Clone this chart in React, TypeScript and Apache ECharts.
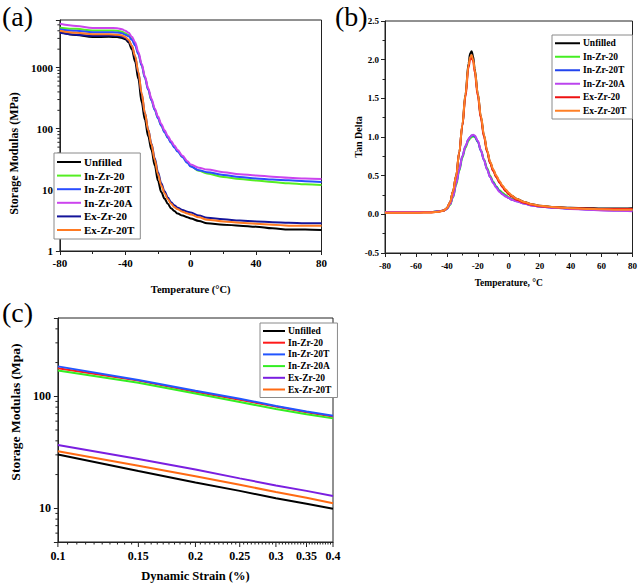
import React, { useEffect, useRef } from "react";
import * as echarts from "echarts";

const FONT = '"Liberation Serif", "Times New Roman", serif';
const NAMES = ["Unfilled", "In-Zr-20", "In-Zr-20T", "In-Zr-20A", "Ex-Zr-20", "Ex-Zr-20T"];

// ---------- Panel (a): storage modulus vs temperature ----------
const tempA = [-80, -70, -60, -50, -45, -42, -40, -38, -36, -34, -32, -30, -28, -26, -24, -22, -20, -18, -16, -14, -12, -10, -8, -5, -2, 0, 5, 10, 20, 30, 40, 50, 60, 70, 80];
const aUnfilled = [3800, 3400, 3150, 3200, 3150, 3050, 2900, 2600, 2000, 1250, 650, 270, 140, 75, 45, 25, 14, 9.2, 7.2, 5.9, 5.0, 4.5, 4.1, 3.8, 3.55, 3.4, 3.1, 2.85, 2.7, 2.6, 2.5, 2.35, 2.25, 2.25, 2.2];
const aInZr20 = [4500, 4300, 4050, 4050, 4000, 3850, 3650, 3400, 2950, 2400, 1700, 1100, 690, 440, 295, 205, 150, 113, 89, 72, 60, 50, 43, 34.5, 28, 24.5, 20.5, 18.5, 16.3, 15, 14.2, 13.4, 12.8, 12.3, 12];
const aInZr20T = [4200, 4000, 3800, 3800, 3750, 3650, 3450, 3250, 2850, 2300, 1650, 1080, 680, 435, 292, 203, 148, 112, 88, 71, 59, 49.5, 42.5, 34, 27.5, 24, 21, 19.5, 17.5, 16.3, 15.4, 14.8, 14.3, 13.8, 13.5];
const aInZr20A = [5200, 4800, 4450, 4450, 4400, 4250, 4000, 3700, 3200, 2600, 1800, 1150, 720, 460, 310, 215, 158, 120, 94, 76, 63, 53, 45, 36, 29.5, 26, 23, 21.5, 19.5, 18, 17.2, 16.4, 15.8, 15.3, 15];
const aExZr20 = [3700, 3450, 3300, 3350, 3300, 3200, 3050, 2750, 2250, 1500, 820, 370, 180, 97, 57, 33, 19.5, 12.8, 9.5, 7.5, 6.3, 5.6, 5.1, 4.7, 4.4, 4.25, 3.8, 3.5, 3.3, 3.15, 3.05, 2.95, 2.9, 2.85, 2.85];
const aExZr20T = [4000, 3700, 3500, 3500, 3450, 3350, 3150, 2850, 2300, 1550, 850, 380, 180, 95, 55, 31, 18, 11.8, 8.8, 7.0, 5.9, 5.2, 4.8, 4.4, 4.1, 3.95, 3.55, 3.25, 3.05, 2.9, 2.8, 2.7, 2.6, 2.6, 2.6];
const colorsA = ["#000000", "#55ee22", "#2a4dff", "#cc44ee", "#14149a", "#ff7a22"];
const yTicksA = [1, 10, 100, 1000];

// ---------- Panel (b): tan delta vs temperature ----------
const tempB = [-80, -70, -60, -50, -45, -42, -40, -38, -36, -34, -32, -30, -28, -26, -25, -24, -23, -22, -20, -18, -16, -14, -12, -10, -8, -6, -4, -2, 0, 2, 5, 10, 15, 20, 30, 40, 50, 60, 70, 80];
const bUnfilled = [0.03, 0.03, 0.03, 0.03, 0.04, 0.05, 0.08, 0.15, 0.3, 0.5, 0.8, 1.15, 1.55, 1.95, 2.08, 2.11, 2.04, 1.88, 1.56, 1.26, 1.02, 0.82, 0.67, 0.57, 0.49, 0.42, 0.36, 0.31, 0.27, 0.24, 0.2, 0.16, 0.13, 0.11, 0.095, 0.085, 0.08, 0.075, 0.075, 0.08];
const bInZr20 = [0.03, 0.03, 0.03, 0.03, 0.04, 0.05, 0.07, 0.12, 0.22, 0.38, 0.56, 0.73, 0.86, 0.95, 0.98, 1.0, 1.01, 1.0, 0.94, 0.83, 0.71, 0.6, 0.5, 0.42, 0.36, 0.31, 0.28, 0.25, 0.22, 0.2, 0.175, 0.145, 0.12, 0.105, 0.09, 0.075, 0.068, 0.062, 0.06, 0.06];
const bInZr20T = [0.03, 0.03, 0.03, 0.03, 0.04, 0.05, 0.07, 0.13, 0.23, 0.4, 0.58, 0.75, 0.88, 0.97, 1.0, 1.02, 1.02, 1.01, 0.94, 0.82, 0.7, 0.58, 0.48, 0.41, 0.35, 0.3, 0.26, 0.235, 0.21, 0.19, 0.17, 0.14, 0.115, 0.1, 0.085, 0.072, 0.063, 0.055, 0.05, 0.05];
const bInZr20A = [0.03, 0.03, 0.03, 0.03, 0.04, 0.05, 0.07, 0.13, 0.23, 0.4, 0.58, 0.75, 0.88, 0.97, 1.0, 1.02, 1.03, 1.02, 0.95, 0.83, 0.7, 0.58, 0.48, 0.4, 0.34, 0.29, 0.26, 0.23, 0.21, 0.19, 0.17, 0.14, 0.115, 0.1, 0.085, 0.07, 0.06, 0.05, 0.045, 0.04];
const bExZr20 = [0.02, 0.02, 0.02, 0.025, 0.035, 0.05, 0.08, 0.15, 0.3, 0.5, 0.8, 1.15, 1.52, 1.9, 2.0, 2.03, 1.98, 1.84, 1.53, 1.24, 1.0, 0.81, 0.66, 0.56, 0.48, 0.41, 0.35, 0.3, 0.26, 0.23, 0.19, 0.15, 0.125, 0.105, 0.09, 0.08, 0.075, 0.07, 0.07, 0.07];
const bExZr20T = [0.02, 0.02, 0.02, 0.025, 0.035, 0.05, 0.08, 0.15, 0.3, 0.5, 0.8, 1.16, 1.55, 1.93, 2.03, 2.06, 2.0, 1.87, 1.56, 1.27, 1.03, 0.83, 0.68, 0.58, 0.5, 0.43, 0.37, 0.32, 0.28, 0.245, 0.2, 0.16, 0.13, 0.11, 0.09, 0.08, 0.07, 0.065, 0.06, 0.06];
const colorsB = ["#000000", "#44ee22", "#2244ee", "#bb44ee", "#ee1111", "#ff8027"];

// ---------- Panel (c): storage modulus vs dynamic strain ----------
const strain = [0.1, 0.15, 0.2, 0.25, 0.3, 0.35, 0.4];
const cUnfilled = [30.2, 21.5, 17, 14.3, 12.3, 11, 9.9];
const cInZr20 = [178, 138, 110, 93, 81, 72, 66];
const cInZr20T = [185, 140, 112, 95, 82, 73, 67];
const cInZr20A = [170, 132, 106, 89, 77, 69, 63.5];
const cExZr20 = [36.8, 27.5, 22.2, 18.5, 16, 14.3, 12.9];
const cExZr20T = [32.3, 24, 19.3, 16.2, 14, 12.4, 11.1];
const colorsC = ["#000000", "#ff1a1a", "#2255ff", "#33ee22", "#7a1fe0", "#ff6a13"];
const strainTickLabels = ["0.1", "0.15", "0.2", "0.25", "0.3", "0.35", "0.4"];
const yTicksC = [10, 100];
const yRangeC = [5, 500];

const zip = (xs: number[], ys: number[]) => xs.map((x, i) => [x, ys[i]]);

const bold = (size: number) => ({ fontFamily: FONT, fontWeight: "bold" as const, fontSize: size, color: "#000" });
const AX = "#222";

const letter = (txt: string, x: number, y: number) => ({
  type: "text",
  x,
  y,
  style: { text: txt, fill: "#000", fontFamily: FONT, fontSize: 28, align: "left", verticalAlign: "middle", textAlign: "left", textVerticalAlign: "middle" },
});

function makeSeries(xs: number[], sets: number[][], colors: string[], width: number, smooth: boolean) {
  return sets.map((ys, i) => ({
    name: NAMES[i],
    type: "line",
    data: zip(xs, ys),
    showSymbol: false,
    symbol: "none",
    smooth: smooth ? 0.35 : false,
    smoothMonotone: "x",
    color: colors[i],
    lineStyle: { color: colors[i], width },
    z: 2 + i,
  }));
}

function legendOf(left: number, top: number, font: number, lineH: number, gap: number, w: number) {
  return {
    orient: "vertical",
    left,
    top,
    padding: [3, 6, 3, 3],
    itemGap: gap,
    itemWidth: w,
    itemHeight: 2,
    icon: "rect",
    borderColor: "#8a8a8a",
    borderWidth: 1,
    backgroundColor: "#fff",
    textStyle: { ...bold(font), lineHeight: lineH, padding: [0, 0, 0, -2] },
    data: NAMES,
  };
}

const optionA = {
  animation: false,
  grid: { left: 45, top: 20, width: 279, height: 235, show: true, borderColor: AX, borderWidth: 1, backgroundColor: "transparent" },
  xAxis: {
    type: "value",
    min: -80,
    max: 80,
    interval: 40,
    axisLine: { onZero: false, lineStyle: { color: AX, width: 1 } },
    axisTick: { length: 4, lineStyle: { color: AX } },
    minorTick: { show: true, splitNumber: 2, length: 3, lineStyle: { color: AX } },
    splitLine: { show: false },
    axisLabel: { ...bold(11), margin: 6 },
    name: "Temperature (°C)",
    nameLocation: "middle",
    nameGap: 33,
    nameTextStyle: bold(10.5),
  },
  yAxis: {
    type: "log",
    min: 1,
    max: 6000,
    axisLine: { onZero: false, lineStyle: { color: AX, width: 1 } },
    axisTick: { length: 4, lineStyle: { color: AX } },
    splitLine: { show: false },
    axisLabel: { ...bold(11), margin: 7, formatter: (v: number) => (yTicksA.includes(Math.round(v)) ? String(Math.round(v)) : "") },
    name: "Storage Modulas (MPa)",
    nameLocation: "middle",
    nameGap: 27,
    nameTextStyle: { ...bold(12), padding: [0, 36, 0, 0] },
  },
  legend: legendOf(54, 153, 11, 12, 1.6, 24),
  series: makeSeries(tempA, [aUnfilled, aInZr20, aInZr20T, aInZr20A, aExZr20, aExZr20T], colorsA, 2, true),
  graphic: [letter("(a)", 2, 16)],
};

const optionB = {
  animation: false,
  grid: { left: 55, top: 21, width: 249, height: 232, show: true, borderColor: AX, borderWidth: 1, backgroundColor: "transparent" },
  xAxis: {
    type: "value",
    min: -80,
    max: 80,
    interval: 20,
    axisLine: { onZero: false, lineStyle: { color: AX, width: 1 } },
    axisTick: { length: 4, lineStyle: { color: AX } },
    minorTick: { show: true, splitNumber: 2, length: 2.5, lineStyle: { color: AX } },
    splitLine: { show: false },
    axisLabel: { ...bold(9), margin: 8 },
    name: "Temperature, °C",
    nameLocation: "middle",
    nameGap: 25,
    nameTextStyle: bold(9.5),
  },
  yAxis: {
    type: "value",
    min: -0.5,
    max: 2.5,
    interval: 0.5,
    axisLine: { onZero: false, lineStyle: { color: AX, width: 1 } },
    axisTick: { length: 4, lineStyle: { color: AX } },
    minorTick: { show: true, splitNumber: 2, length: 2.5, lineStyle: { color: AX } },
    splitLine: { show: false },
    axisLabel: { ...bold(9), margin: 6, formatter: (v: number) => v.toFixed(1) },
    name: "Tan Delta",
    nameLocation: "middle",
    nameGap: 22,
    nameMoveOverlap: false,
    nameTextStyle: bold(10),
  },
  legend: legendOf(222, 35, 9.5, 10.5, 3, 25),
  series: makeSeries(tempB, [bUnfilled, bInZr20, bInZr20T, bInZr20A, bExZr20, bExZr20T], colorsB, 2, true),
  graphic: [letter("(b)", 5, 16)],
};

const optionC = {
  animation: false,
  grid: { left: 47, top: 28, width: 286, height: 229, show: true, borderColor: AX, borderWidth: 1, backgroundColor: "transparent" },
  xAxis: {
    type: "log",
    min: 0.1,
    max: 0.4,
    axisLine: { onZero: false, lineStyle: { color: AX, width: 1 } },
    axisTick: { show: false },
    splitLine: { show: false },
    minorSplitLine: { show: false },
    axisLabel: { show: false },
    name: "Dynamic Strain (%)",
    nameLocation: "middle",
    nameGap: 27,
    nameTextStyle: bold(12.5),
  },
  yAxis: {
    type: "log",
    min: yRangeC[0],
    max: yRangeC[1],
    axisLine: { onZero: false, lineStyle: { color: AX, width: 1 } },
    axisTick: { length: 4, lineStyle: { color: AX } },
    splitLine: { show: false },
    axisLabel: { ...bold(12), margin: 7, formatter: (v: number) => (yTicksC.includes(Math.round(v)) ? String(Math.round(v)) : "") },
    name: "Storage Modulas (Mpa)",
    nameLocation: "middle",
    nameGap: 26,
    nameTextStyle: { ...bold(13.5), padding: [0, 0, 0, 36] },
  },
  legend: legendOf(260, 33, 9.5, 10, 1.7, 22),
  series: makeSeries(strain, [cUnfilled, cInZr20, cInZr20T, cInZr20A, cExZr20, cExZr20T], colorsC, 2, false),
  graphic: [letter("(c)", 2, 22)],
};

function afterC(chart: any) {
  const px = (v: number) => chart.convertToPixel({ xAxisIndex: 0 }, v) as number;
  const py = (v: number) => chart.convertToPixel({ yAxisIndex: 0 }, v) as number;
  const bottom = py(yRangeC[0]);
  const left = px(strain[0]);
  const els: any[] = [letter("(c)", 2, 22)];
  const lineEl = (x1: number, y1: number, x2: number, y2: number) => ({
    type: "line",
    shape: { x1, y1, x2, y2 },
    style: { stroke: AX, lineWidth: 1 },
    silent: true,
  });
  strainTickLabels.forEach((lab) => {
    const x = px(parseFloat(lab));
    els.push(lineEl(x, bottom, x, bottom + 5));
    els.push({
      type: "text",
      x,
      y: bottom + 8,
      style: { text: lab, fill: "#000", fontFamily: FONT, fontWeight: "bold", fontSize: 12, align: "center", verticalAlign: "top", textAlign: "center", textVerticalAlign: "top" },
    });
  });
  // minor ticks on strain axis every 0.005
  for (let k = 21; k < 80; k++) {
    if (k % 10 === 0) continue;
    const v = k * 0.005;
    const x = px(v);
    els.push(lineEl(x, bottom, x, bottom + 2.5));
  }
  // minor ticks on modulus axis
  [6, 7, 8, 9, 20, 30, 40, 50, 60, 70, 80, 90, 200, 300, 400].forEach((v) => {
    const y = py(v);
    els.push(lineEl(left, y, left - 2.5, y));
  });
  chart.setOption({ graphic: els });
}

function afterA(chart: any) {
  const py = (v: number) => chart.convertToPixel({ yAxisIndex: 0 }, v) as number;
  const left = chart.convertToPixel({ xAxisIndex: 0 }, -80) as number;
  const els: any[] = [letter("(a)", 2, 16)];
  [2, 3, 4, 5, 6, 7, 8, 9, 20, 30, 40, 50, 60, 70, 80, 90, 200, 300, 400, 500, 600, 700, 800, 900, 2000, 3000, 4000, 5000].forEach((v) => {
    const y = py(v);
    els.push({ type: "line", shape: { x1: left, y1: y, x2: left - 2.5, y2: y }, style: { stroke: AX, lineWidth: 1 }, silent: true });
  });
  chart.setOption({ graphic: els });
}

function Panel({ box, option, after }: { box: { left: number; top: number; width: number; height: number }; option: any; after?: (c: any) => void }) {
  const ref = useRef<HTMLDivElement>(null);
  useEffect(() => {
    const chart = echarts.init(ref.current!, null, { renderer: "svg" });
    chart.setOption(option);
    if (after) after(chart);
    return () => chart.dispose();
  }, []);
  return <div ref={ref} style={{ position: "absolute", ...box }} />;
}

export default function App() {
  return (
    <div style={{ position: "absolute", left: 0, top: 0, width: 640, height: 587, background: "#fff", overflow: "hidden" }}>
      <Panel box={{ left: 0, top: 0, width: 330, height: 300 }} option={optionA} after={afterA} />
      <Panel box={{ left: 330, top: 0, width: 310, height: 300 }} option={optionB} />
      <Panel box={{ left: 0, top: 290, width: 350, height: 297 }} option={optionC} after={afterC} />
    </div>
  );
}
